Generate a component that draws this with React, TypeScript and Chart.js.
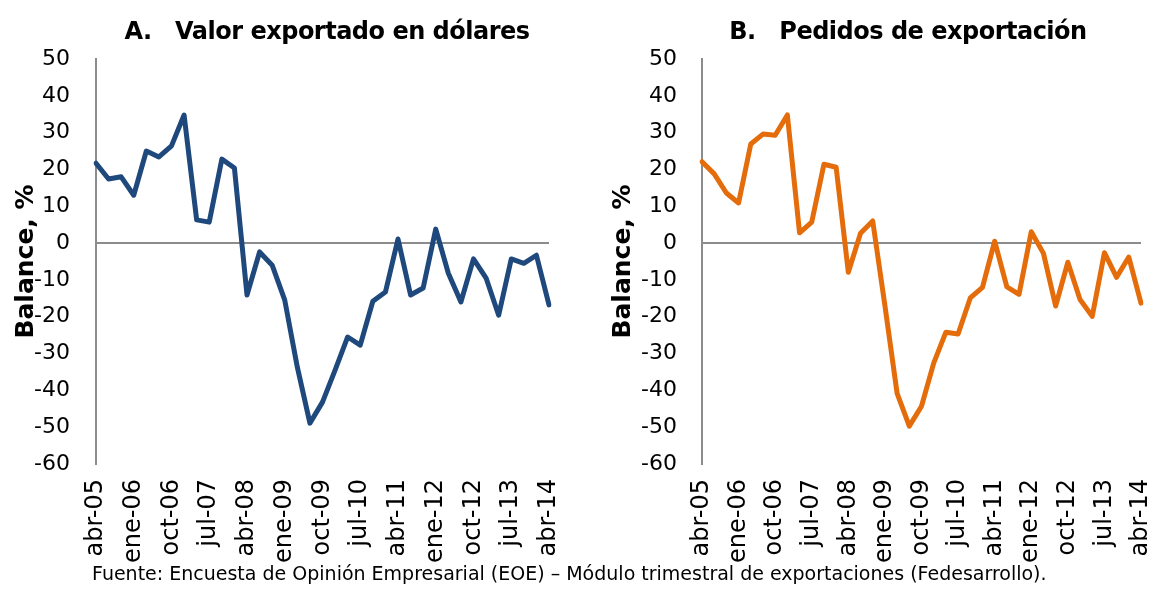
import React, { useEffect, useRef } from "react";
import { Chart, registerables } from "chart.js";

Chart.register(...registerables);

const quarters = [
  "abr-05", "jul-05", "oct-05",
  "ene-06", "abr-06", "jul-06", "oct-06",
  "ene-07", "abr-07", "jul-07", "oct-07",
  "ene-08", "abr-08", "jul-08", "oct-08",
  "ene-09", "abr-09", "jul-09", "oct-09",
  "ene-10", "abr-10", "jul-10", "oct-10",
  "ene-11", "abr-11", "jul-11", "oct-11",
  "ene-12", "abr-12", "jul-12", "oct-12",
  "ene-13", "abr-13", "jul-13", "oct-13",
  "ene-14", "abr-14",
];

const valorExportado = [
  21.7, 17.4, 18, 13, 25, 23.4, 26.4, 34.8, 6.3, 5.7, 22.8, 20.4,
  -14.1, -2.4, -6, -15.5, -33.7, -48.9, -43.2, -34.5, -25.5, -27.7,
  -15.8, -13.3, 1.1, -14.1, -12.2, 3.8, -8.2, -16, -4.3, -9.5, -19.6,
  -4.3, -5.5, -3.3, -16.8,
];

const pedidosExportacion = [
  22.1, 18.8, 13.6, 10.9, 26.9, 29.6, 29.3, 34.8, 2.8, 5.7, 21.4, 20.6,
  -7.9, 2.7, 6, -17, -40.8, -49.7, -44.3, -32.6, -24.2, -24.7, -14.9,
  -12, 0.5, -11.9, -13.9, 3.1, -2.8, -17.1, -5.2, -15.3, -19.9, -2.6,
  -9.3, -3.8, -16.3,
];

const yMin = -60;
const yMax = 50;
const yStep = 10;
const labelEvery = 3;

const titleA = "A.   Valor exportado en dólares";
const titleB = "B.   Pedidos de exportación";
const yTitle = "Balance, %";
const source =
  "Fuente: Encuesta de Opinión Empresarial (EOE) – Módulo trimestral de exportaciones (Fedesarrollo).";

const FONT = "'DejaVu Sans', Verdana, sans-serif";

type PanelProps = {
  values: number[];
  color: string;
  left: number;
  width: number;
  height: number;
  axisWidth: number;
  padRight: number;
  tickPad: number;
  titlePad: number;
};

function Panel(p: PanelProps) {
  const ref = useRef<HTMLCanvasElement | null>(null);
  useEffect(() => {
    if (!ref.current) return;
    const chart = new Chart(ref.current, {
      type: "line",
      data: {
        labels: quarters,
        datasets: [
          {
            data: p.values,
            borderColor: p.color,
            backgroundColor: p.color,
            borderWidth: 5,
            pointRadius: 0,
            tension: 0,
            fill: false,
            borderJoinStyle: "round",
            borderCapStyle: "round",
          },
        ],
      },
      options: {
        animation: false,
        responsive: false,
        maintainAspectRatio: false,
        layout: { padding: { left: 0, right: p.padRight, top: 59, bottom: 0 } },
        plugins: {
          legend: { display: false },
          tooltip: { enabled: false },
          title: { display: false },
        },
        scales: {
          x: {
            type: "category",
            offset: false,
            grid: { display: false, drawTicks: false },
            border: { display: false },
            ticks: {
              autoSkip: false,
              maxRotation: 90,
              minRotation: 90,
              padding: 15,
              color: "#000",
              font: { family: FONT, size: 24, lineHeight: 1 },
              callback: (_v: any, i: number) =>
                i % labelEvery === 0 ? quarters[i] : "",
            },
            afterFit: (s: any) => {
              s.height = p.height - 464;
              s.paddingLeft = 0;
              s.paddingRight = 0;
            },
          },
          y: {
            min: yMin,
            max: yMax,
            ticks: {
              stepSize: yStep,
              padding: p.tickPad,
              color: "#000",
              font: { family: FONT, size: 22 },
            },
            grid: {
              drawTicks: false,
              color: (ctx: any) =>
                ctx.tick && ctx.tick.value === 0 ? "#8c8c8c" : "rgba(0,0,0,0)",
              lineWidth: 2,
            },
            border: { display: true, color: "#8c8c8c", width: 2 },
            title: {
              display: true,
              text: yTitle,
              color: "#000",
              font: { family: FONT, size: 25, weight: "bold" },
              padding: { top: p.titlePad, bottom: 0 },
            },
            afterFit: (s: any) => {
              s.width = p.axisWidth;
            },
          },
        },
      },
    } as any);
    return () => chart.destroy();
  }, []);
  return (
    <canvas
      ref={ref}
      width={p.width}
      height={p.height}
      style={{
        position: "absolute",
        left: p.left,
        top: 0,
        width: p.width,
        height: p.height,
      }}
    />
  );
}

const titleStyle = (center: number): React.CSSProperties => ({
  position: "absolute",
  left: center - 300,
  width: 600,
  top: 17,
  textAlign: "center",
  whiteSpace: "pre",
  fontFamily: FONT,
  fontWeight: "bold",
  fontSize: 24,
  letterSpacing: "-0.5px",
  lineHeight: "normal",
  color: "#000",
});

export default function App() {
  return (
    <div
      style={{
        position: "absolute",
        left: 0,
        top: 0,
        width: 1153,
        height: 593,
        background: "#fff",
        overflow: "hidden",
      }}
    >
      <Panel
        values={valorExportado}
        color="#1F497D"
        left={0}
        width={570}
        height={570}
        axisWidth={96}
        padRight={21}
        tickPad={26}
        titlePad={11}
      />
      <Panel
        values={pedidosExportacion}
        color="#E46C0A"
        left={585}
        width={568}
        height={570}
        axisWidth={117}
        padRight={12}
        tickPad={25}
        titlePad={23}
      />
      <div style={titleStyle(327)}>{titleA}</div>
      <div style={titleStyle(908)}>{titleB}</div>
      <div
        style={{
          position: "absolute",
          left: 92,
          top: 562,
          whiteSpace: "pre",
          fontFamily: FONT,
          fontSize: 19,
          lineHeight: "normal",
          color: "#000",
        }}
      >
        {source}
      </div>
    </div>
  );
}
